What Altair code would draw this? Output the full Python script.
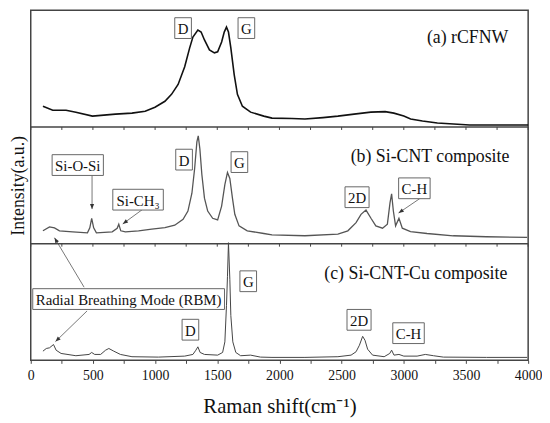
import math
import altair as alt
import pandas as pd

# ---------------- data ----------------
# (a) rCFNW
a_x = [98, 177, 284, 363, 496, 681, 814, 920, 999, 1079, 1132, 1185, 1238, 1278, 1304,
       1344, 1370, 1397, 1437, 1477, 1503, 1535, 1556, 1574, 1590, 1609, 1636, 1662, 1702,
       1768, 1874, 1940, 2100, 2205, 2350, 2470, 2600, 2735, 2850, 2920, 3000, 3055, 3150,
       3270, 3400, 3530, 3700, 3850, 4000]
a_y = [21, 17, 17, 15, 11, 13, 14, 16, 20, 26, 33, 43, 61, 80, 91,
       98, 96, 88, 78, 75, 76, 86, 96, 101, 96, 80, 53, 33, 21,
       15, 11, 9, 8.5, 8, 9.5, 11, 13, 15, 15.5, 14, 11, 8, 6,
       4, 3, 2, 2, 2, 2]

# (b) Si-CNT composite
b_x = [98, 151, 191, 231, 337, 456, 475, 490, 506, 528, 655, 695, 708, 724, 761,
       867, 973, 1079, 1158, 1225, 1264, 1296, 1318, 1336, 1347, 1360, 1376, 1397, 1423,
       1463, 1503, 1535, 1561, 1582, 1601, 1622, 1641, 1675, 1741, 1874, 1940, 2205, 2470,
       2550, 2616, 2656, 2696, 2736, 2775, 2829, 2868, 2889, 2902, 2916, 2934, 2961, 2988,
       3054, 3187, 3398, 3664, 3992]
b_y = [13, 17, 16, 13, 12, 11, 16, 25.7, 16, 11, 12, 15.5, 19.7, 13, 12,
       13, 14.7, 16.3, 18.7, 24.7, 33, 51, 76, 103, 109, 96, 70, 46, 33,
       25.7, 24, 38, 59.7, 72, 66, 46, 29.7, 18, 13, 10.3, 9, 8, 9.7,
       13, 21.3, 29.7, 34, 25.7, 18, 15.7, 19.7, 41.3, 50.3, 33, 18, 25.7, 15.7,
       12.3, 10.3, 8, 7, 6.3]

# (c) Si-CNT-Cu composite
c_x = [98, 125, 151, 183, 204, 244, 363, 469, 490, 514, 562, 602, 628, 668, 721,
       814, 1026, 1238, 1304, 1328, 1344, 1362, 1397, 1503, 1543, 1561, 1574, 1582, 1590,
       1601, 1609, 1625, 1649, 1688, 1768, 1847, 1940, 2205, 2470, 2576, 2616, 2643, 2669,
       2688, 2709, 2749, 2842, 2887, 2902, 2921, 2961, 3000, 3107, 3173, 3239, 3318, 3664,
       3992]
c_y = [9.3, 12, 12.7, 16, 10.3, 7, 4.7, 6, 8, 6, 6, 10.3, 12, 9.3, 6,
       3.7, 3.3, 4.3, 6, 10.3, 13.7, 8, 6, 5.3, 8, 18.7, 55.3, 85, 119,
       82, 45.3, 18.7, 8, 4.7, 5.3, 3.3, 3, 3, 3.7, 5.3, 8.7, 15.3, 24.3,
       20.3, 11.3, 5.3, 3.7, 7, 10.3, 5.3, 6, 4.3, 4.3, 6, 4.7, 3.3, 3,
       3]

series_names = ["(a) rCFNW", "(b) Si-CNT composite", "(c) Si-CNT-Cu composite"]
series_colors = ["#111111", "#555555", "#444444"]

# boxed peak labels: text, x (cm-1), y (within panel), panel index (0=a,1=b,2=c)
box_text = ["D", "G", "D", "G", "Si-O-Si", "Si-CH\u2083", "2D", "C-H",
            "Radial Breathing Mode (RBM)", "G", "D", "2D", "C-H"]
box_x = [1225, 1734, 1233, 1678, 378, 863, 2624, 3085, 787, 1749, 1284, 2640, 3038]
box_y = [100, 100, 85, 82.5, 79.5, 44.5, 47, 56, 62, 80, 31, 41, 27.5]
box_panel = [0, 0, 1, 1, 1, 1, 1, 1, 2, 2, 2, 2, 2]

# panel titles (right aligned)
title_x = [3841, 3849, 3833]
title_y = [90, 88, 87]

# arrows: start x, start y, end x, end y (within panel), panel
arr_x1 = [493, 914, 3133, 429, 453]
arr_y1 = [70, 36, 46, 74, 50]
arr_x2 = [493, 740, 2958, 191, 199]
arr_y2 = [35, 20, 31, 124, 19]
arr_panel = [1, 1, 1, 2, 2]

x_ticks = list(range(0, 4001, 250))

# ---------------- layout constants ----------------
PANEL_H = 118
W, H = 503, 3 * PANEL_H
offsets = [2 * PANEL_H, PANEL_H, 0]
UNIT_PER_PX_X = 4000 / W
FONT = "Liberation Serif"

char_w = {'D': .722, 'G': .722, 'S': .556, 'i': .278, '-': .333, 'O': .722, 'C': .667,
          'H': .722, '\u2083': .45, '2': .5, 'R': .667, 'a': .444, 'd': .5, 'l': .278,
          ' ': .25, 'B': .667, 'r': .333, 'e': .444, 't': .278, 'h': .5, 'n': .5, 'g': .5,
          'M': .889, 'o': .5, '(': .333, ')': .333}


def text_w(s, size):
    return sum(char_w.get(ch, .5) for ch in s) * size


BOX_FS = 15
BOX_H = 21

# ---------------- tables ----------------
spec_rows = []
for name, xs_, ys_, off in zip(series_names, [a_x, b_x, c_x], [a_y, b_y, c_y], offsets):
    for x, y in zip(xs_, ys_):
        spec_rows.append({"series": name, "shift": x, "y": y + off})
spec = pd.DataFrame(spec_rows)

box_rows = []
for t, x, y, p in zip(box_text, box_x, box_y, box_panel):
    hw = (text_w(t, BOX_FS) + 6) / 2 * UNIT_PER_PX_X
    yy = y + offsets[p]
    box_rows.append({"label": t, "shift": x - hw, "shift2": x + hw,
                     "y": yy - BOX_H / 2, "y2": yy + BOX_H / 2})
boxes = pd.DataFrame(box_rows)
labels = pd.DataFrame({"label": box_text, "shift": box_x,
                       "y": [y + offsets[p] for y, p in zip(box_y, box_panel)]})

titles = pd.DataFrame({"label": series_names, "shift": title_x,
                       "y": [y + o for y, o in zip(title_y, offsets)]})

arrows = pd.DataFrame({
    "shift": arr_x1, "shift2": arr_x2,
    "y": [y + offsets[p] for y, p in zip(arr_y1, arr_panel)],
    "y2": [y + offsets[p] for y, p in zip(arr_y2, arr_panel)],
})
heads = []
for x1, y1, x2, y2, p in zip(arr_x1, arr_y1, arr_x2, arr_y2, arr_panel):
    dx = (x2 - x1) / UNIT_PER_PX_X
    dy = -(y2 - y1)
    ang = math.degrees(math.atan2(dx, -dy)) % 360
    heads.append({"shift": x2, "y": y2 + offsets[p], "ang": ang})
heads = pd.DataFrame(heads)

sep = pd.DataFrame({"shift": [0] * 2, "shift2": [4000] * 2, "y": [PANEL_H, 2 * PANEL_H]})
tick_rows = []
for lvl in [PANEL_H, 2 * PANEL_H]:
    for v in x_ticks:
        tick_rows.append({"shift": v, "y": lvl, "y2": lvl - 3})
sep_ticks = pd.DataFrame(tick_rows)

# ---------------- encodings ----------------
x_axis = alt.Axis(title="Raman shift(cm\u207b\u00b9)", values=x_ticks, format="d",
                  labelExpr="datum.value % 500 === 0 ? datum.label : ''",
                  labelOverlap=False, labelFlush=False, tickSize=3, tickColor="#444",
                  tickWidth=1, labelPadding=5, labelFontSize=14, labelFont=FONT,
                  titleFont=FONT, titleFontSize=21,
                  titleFontWeight="normal", titlePadding=14, grid=False, domain=False,
                  labelColor="#111", titleColor="#111")
y_axis = alt.Axis(title="Intensity(a.u.)", labels=False, ticks=False, domain=False,
                  grid=False, titleFontSize=18, titlePadding=3, titleFontWeight="normal",
                  titleFont=FONT, titleColor="#111")
xs = alt.Scale(domain=[0, 4000], nice=False, zero=False)
ys = alt.Scale(domain=[0, H], nice=False, zero=False)
X = alt.X("shift:Q", scale=xs, axis=x_axis)
Y = alt.Y("y:Q", scale=ys, axis=y_axis)

lines = alt.Chart(spec).mark_line().encode(
    x=X, y=Y,
    color=alt.Color("series:N", scale=alt.Scale(domain=series_names, range=series_colors),
                    legend=None),
    strokeWidth=alt.StrokeWidth("series:N",
                                scale=alt.Scale(domain=series_names, range=[1.6, 1.0, 1.1]),
                                legend=None),
    detail="series:N")

sep_lines = alt.Chart(sep).mark_rule(color="#444", strokeWidth=1.5).encode(
    x=X, x2="shift2:Q", y=Y)
sep_tk = alt.Chart(sep_ticks).mark_rule(color="#444", strokeWidth=1).encode(
    x=X, y=Y, y2="y2:Q")

arrow_lines = alt.Chart(arrows).mark_rule(color="#555", strokeWidth=0.8).encode(
    x=X, y=Y, x2="shift2:Q", y2="y2:Q")
arrow_heads = alt.Chart(heads).mark_point(
    shape="M0,0L-0.4,1L0.4,1Z", filled=True, color="#333", size=110, opacity=1).encode(
    x=X, y=Y, angle=alt.Angle("ang:Q", scale=None))

box_rects = alt.Chart(boxes).mark_rect(fill="white", stroke="#666", strokeWidth=1).encode(
    x=X, x2="shift2:Q", y=Y, y2="y2:Q")
box_labels = alt.Chart(labels).mark_text(font=FONT, fontSize=BOX_FS, color="#111",
                                         align="center", baseline="middle", dy=1).encode(
    x=X, y=Y, text="label:N")
panel_titles = alt.Chart(titles).mark_text(font=FONT, fontSize=18, color="#111",
                                           align="right", baseline="middle").encode(
    x=X, y=Y, text="label:N")

chart = alt.layer(
    lines, sep_lines, sep_tk, arrow_lines, arrow_heads, box_rects, box_labels, panel_titles
).properties(
    width=W, height=H,
    autosize=alt.AutoSizeParams(type="none"),
    padding={"left": 23, "top": 0, "right": 14, "bottom": 60},
).configure(font=FONT).configure_view(stroke="#444", strokeWidth=1.5)

chart.save("out.html", embed_options={"renderer": "svg", "actions": False})
